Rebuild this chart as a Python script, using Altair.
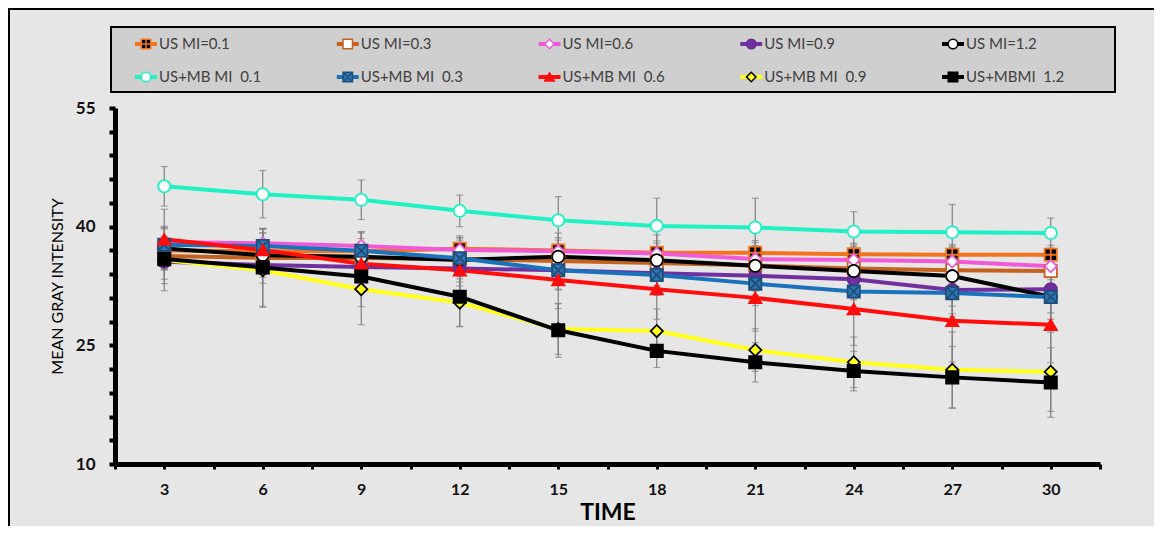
import altair as alt
import pandas as pd

TIME = [3, 6, 9, 12, 15, 18, 21, 24, 27, 30]
SERIES = ["US MI=0.1", "US MI=0.3", "US MI=0.6", "US MI=0.9", "US MI=1.2",
          "US+MB MI\u00a0 0.1", "US+MB MI\u00a0 0.3", "US+MB MI\u00a0 0.6",
          "US+MB MI\u00a0 0.9", "US+MBMI\u00a0 1.2"]

us01 = [37.0, 36.9, 36.9, 37.2, 37.0, 36.7, 36.7, 36.5, 36.45, 36.45]
us03 = [36.3, 36.05, 36.05, 35.9, 35.65, 35.4, 35.1, 34.7, 34.5, 34.4]
us06 = [38.05, 37.9, 37.55, 37.05, 36.9, 36.6, 35.9, 35.8, 35.6, 35.0]
us09 = [35.55, 35.15, 34.9, 34.7, 34.5, 34.1, 33.8, 33.35, 32.0, 32.1]
us12 = [37.25, 36.4, 36.2, 35.8, 36.2, 35.75, 35.05, 34.4, 33.75, 31.15]
mb01 = [45.1, 44.1, 43.4, 42.0, 40.8, 40.1, 39.9, 39.4, 39.3, 39.2]
mb03 = [37.7, 37.55, 36.95, 36.0, 34.5, 33.9, 32.8, 31.8, 31.6, 31.1]
mb06 = [38.4, 37.05, 35.3, 34.5, 33.25, 32.1, 31.0, 29.6, 28.1, 27.6]
mb09 = [35.8, 34.5, 32.1, 30.4, 27.05, 26.8, 24.4, 22.85, 21.9, 21.65]
mb12 = [35.9, 34.85, 33.7, 31.15, 26.9, 24.3, 22.85, 21.75, 20.95, 20.3]

err_us01 = [1.5, 1.4, 1.6, 1.4, 1.3, 1.2, 1.3, 1.2, 1.3, 1.2]
err_us03 = [1.8, 1.8, 1.7, 1.6, 1.6, 1.5, 1.6, 1.6, 1.7, 1.6]
err_us06 = [2.0, 1.9, 1.8, 1.8, 1.7, 1.6, 1.7, 1.7, 1.8, 1.7]
err_us09 = [2.2, 2.3, 2.4, 2.2, 2.4, 2.3, 2.5, 2.6, 3.0, 3.0]
err_us12 = [2.6, 2.8, 3.0, 2.8, 3.0, 3.2, 3.2, 3.5, 3.8, 3.6]
err_mb01 = [2.5, 3.0, 2.5, 2.0, 3.0, 3.5, 3.7, 2.5, 3.5, 1.9]
err_mb03 = [2.0, 2.2, 2.4, 2.3, 2.5, 2.6, 2.8, 2.8, 3.0, 2.8]
err_mb06 = [3.8, 2.6, 2.8, 3.0, 3.6, 3.8, 4.2, 4.6, 5.2, 4.8]
err_mb09 = [3.0, 4.7, 4.5, 3.0, 3.2, 2.8, 2.7, 3.2, 4.8, 5.0]
err_mb12 = [4.0, 4.9, 3.8, 3.8, 3.4, 2.1, 2.5, 2.5, 3.9, 4.4]

VALUES = [us01, us03, us06, us09, us12, mb01, mb03, mb06, mb09, mb12]
ERRORS = [err_us01, err_us03, err_us06, err_us09, err_us12,
          err_mb01, err_mb03, err_mb06, err_mb09, err_mb12]

Y_TICKS = list(range(10, 56, 3))
X_TICKS = [1.5 * i for i in range(1, 22)]

# styles
LINE_COLORS = ["#f4731f", "#c5621f", "#f05ad8", "#7030a0", "#000000",
               "#1ef2c4", "#1a72bb", "#ff0d0d", "#ffff1a", "#000000"]
MARK_FILL = ["#000000", "#ffffff", "#ffffff", "#7030a0", "#ffffff",
             "#ffffff", "#2e75b6", "#ff0d0d", "#ffff1a", "#000000"]
MARK_STROKE = ["#f4731f", "#c5621f", "#f05ad8", "#6a2c91", "#000000",
               "#1ef2c4", "#1f4e79", "#ff0d0d", "#000000", "#000000"]
SQUARE_PLUS = "M-1,-1H1V1H-1Z M0,-0.85V0.85 M-0.85,0H0.85"
SQUARE_X = "M-1,-1H1V1H-1Z M-1,-1L1,1 M1,-1L-1,1"
SHAPES = [SQUARE_PLUS, "square", "diamond", "circle", "circle",
          "circle", SQUARE_X, "triangle-up", "diamond", "square"]
SIZES = [150, 150, 150, 90, 150, 150, 150, 170, 130, 150]

rows = []
for s, vals, errs in zip(SERIES, VALUES, ERRORS):
    for t, v, e in zip(TIME, vals, errs):
        rows.append({"series": s, "time": t, "value": v, "lo": v - e, "hi": v + e})
df = pd.DataFrame(rows)

leg = pd.DataFrame({
    "series": SERIES,
    "label": SERIES,
    "col": [i % 5 for i in range(10)],
    "row": [i // 5 for i in range(10)],
})

FONT = "Lato"
W, H = 985, 356
PAD = {"left": 107, "top": 100, "right": 54, "bottom": 62}

color_scale = alt.Scale(domain=SERIES, range=LINE_COLORS)
fill_scale = alt.Scale(domain=SERIES, range=MARK_FILL)
stroke_scale = alt.Scale(domain=SERIES, range=MARK_STROKE)
shape_scale = alt.Scale(domain=SERIES, range=SHAPES)
size_scale = alt.Scale(domain=SERIES, range=SIZES)

x_enc = alt.X("time:Q", scale=alt.Scale(domain=[1.5, 31.5], nice=False, zero=False),
              axis=alt.Axis(values=X_TICKS, tickCount=40, labelOverlap=False,
                            labelExpr="datum.value % 3 == 0 ? datum.value : ''",
                            title="TIME", titleFont=FONT, titleFontSize=23,
                            titleFontWeight="bold", titleColor="#000000", titlePadding=4,
                            labelFont=FONT, labelFontSize=16, labelFontWeight="bold",
                            labelColor="#111111", labelPadding=12,
                            domainWidth=5, domainColor="#000000",
                            tickColor="#000000", tickWidth=3, tickSize=5, grid=False))
y_enc = alt.Y("value:Q", scale=alt.Scale(domain=[10, 55], nice=False, zero=False),
              axis=alt.Axis(values=Y_TICKS, tickCount=40, labelOverlap=False,
                            labelExpr="(datum.value - 10) % 15 == 0 ? datum.value : ''",
                            title="MEAN GRAY INTENSITY", titleFont=FONT, titleFontSize=16,
                            titleFontWeight="normal", titleColor="#000000", titlePadding=10,
                            labelFont=FONT, labelFontSize=17, labelFontWeight="bold",
                            labelColor="#111111", labelPadding=14,
                            domainWidth=5, domainColor="#000000",
                            tickColor="#000000", tickWidth=4, tickSize=6, grid=False))

base = alt.Chart(df)
err_rule = base.mark_rule(color="#808080", strokeWidth=1.2).encode(
    x=x_enc, y=alt.Y("lo:Q"), y2="hi:Q")
cap_lo = base.mark_tick(color="#808080", thickness=1.2, size=7, orient="horizontal").encode(
    x="time:Q", y="lo:Q")
cap_hi = base.mark_tick(color="#808080", thickness=1.2, size=7, orient="horizontal").encode(
    x="time:Q", y="hi:Q")
lines = base.mark_line(strokeWidth=4).encode(
    x=x_enc, y=y_enc,
    color=alt.Color("series:N", scale=color_scale, legend=None))
points = base.mark_point(filled=True, strokeWidth=1.8, opacity=1).encode(
    x="time:Q", y="value:Q",
    fill=alt.Fill("series:N", scale=fill_scale, legend=None),
    stroke=alt.Stroke("series:N", scale=stroke_scale, legend=None),
    shape=alt.Shape("series:N", scale=shape_scale, legend=None),
    size=alt.Size("series:N", scale=size_scale, legend=None))

main = alt.layer(err_rule, cap_lo, cap_hi, lines, points)

one = alt.Chart(pd.DataFrame({"a": [0]}))
frame_left = one.mark_rule(color="#000000", strokeWidth=2).encode(
    x=alt.value(-106), y=alt.value(-99), y2=alt.value(H + PAD["bottom"]))
frame_top = one.mark_rule(color="#000000", strokeWidth=2).encode(
    x=alt.value(-107), x2=alt.value(W + PAD["right"]), y=alt.value(-99))
box = one.mark_rect(fill="#d0cfcf", stroke="#000000", strokeWidth=2).encode(
    x=alt.value(-4), x2=alt.value(1000), y=alt.value(-81), y2=alt.value(-16))

lx = alt.X("col:Q", scale=alt.Scale(domain=[0, 4], range=[31, 838]), axis=None)
ly = alt.Y("row:Q", scale=alt.Scale(domain=[0, 1], range=[-64, -31]), axis=None)
lb = alt.Chart(leg)
leg_line = lb.mark_rule(strokeWidth=4, xOffset=-11, x2Offset=11).encode(
    x=lx, x2="col:Q", y=ly,
    color=alt.Color("series:N", scale=color_scale, legend=None))
leg_pt = lb.mark_point(filled=True, strokeWidth=1.5, opacity=1, size=90).encode(
    x=lx, y=ly,
    fill=alt.Fill("series:N", scale=fill_scale, legend=None),
    stroke=alt.Stroke("series:N", scale=stroke_scale, legend=None),
    shape=alt.Shape("series:N", scale=shape_scale, legend=None))
leg_txt = lb.mark_text(align="left", baseline="middle", dx=13, font=FONT,
                       fontSize=15, color="#404040").encode(x=lx, y=ly, text="label:N")

legend = alt.layer(frame_left, frame_top, box, leg_line, leg_pt, leg_txt)

chart = alt.layer(main, legend).resolve_scale(x="independent", y="independent").properties(
    width=W, height=H,
    autosize=alt.AutoSizeParams(type="none"),
    padding=PAD,
    background="#e7e6e6",
).configure_view(stroke="transparent")

chart.save("out.html", embed_options={"renderer": "svg", "actions": False})
